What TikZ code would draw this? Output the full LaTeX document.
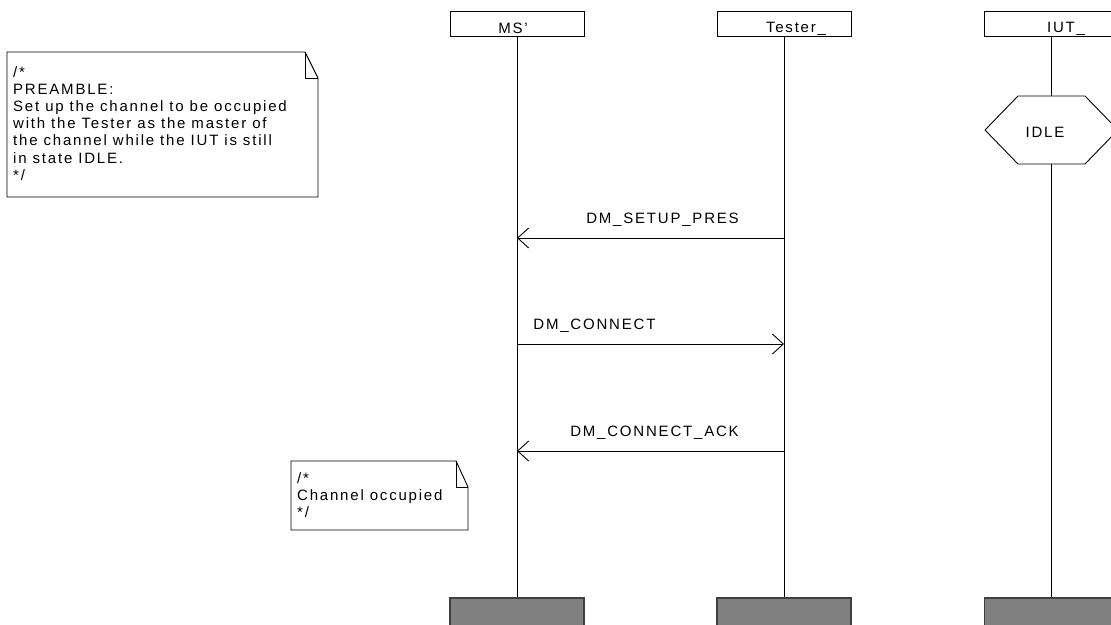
\documentclass[tikz,border=0pt]{standalone}
\usepackage{fontspec}
\setmainfont{Liberation Sans}[LetterSpace=12]
\usetikzlibrary{arrows.meta}
\definecolor{endgray}{RGB}{128,128,128}
\tikzset{
  every node/.style={font=\fontsize{15}{17.2}\selectfont, inner sep=0pt},
  lifebox/.style={draw=black, line width=0.9pt, minimum width=134pt, minimum height=25pt, fill=white},
  endbox/.style={draw=black!75, line width=1.2pt, fill=endgray, minimum width=134pt, minimum height=30pt},
  lifeline/.style={line width=0.9pt},
  msg/.style={line width=0.9pt, -{Straight Barb[length=11pt,width=20pt,line width=0.9pt]}},
  lbl/.style={anchor=base, yshift=15pt},
  cmt/.style={draw=black, line width=0.9pt, fill=white},
  cmttext/.style={anchor=north west, align=left},
}
\begin{document}
\begin{tikzpicture}[x=1pt,y=-1pt]
\useasboundingbox (0,0) rectangle (1111,624);
\clip (0,0) rectangle (1111,624);
\fill[white] (0,0) rectangle (1111,624);

% instance heads
\node[lifebox] (ms) at (517,23.5) {};
\node[lifebox] (tester) at (784,23.5) {};
\node[lifebox] (iut) at (1051.5,23.5) {};
\node[anchor=base] (mslbl) at (513,33) {MS'};
\node[anchor=base] (testerlbl) at (796,32.5) {Tester\_};
\node[anchor=base] (iutlbl) at (1066,32.5) {IUT\_};

% instance ends
\node[endbox] (msend) at (517,613) {};
\node[endbox] (testerend) at (784,613) {};
\node[endbox] (iutend) at (1051.5,613) {};

% IDLE state
\coordinate (idletop) at (1051.5,96);
\coordinate (idlebot) at (1051.5,164);
\draw[lifeline] (985,130) -- (1018,96) -- (1085,96) -- (1118,130) -- (1085,164) -- (1018,164) -- cycle;
\node[anchor=base] (idle) at (1045,137) {IDLE};

% lifelines
\draw[lifeline] (ms.south) -- (msend.north);
\draw[lifeline] (tester.south) -- (testerend.north);
\draw[lifeline] (iut.south) -- (idletop);
\draw[lifeline] (idlebot) -- (iutend.north);

% messages
\coordinate (m1t) at (784,238);
\coordinate (m1m) at (517,238);
\coordinate (m2m) at (517,344);
\coordinate (m2t) at (784,344);
\coordinate (m3t) at (784,451);
\coordinate (m3m) at (517,451);
\draw[msg] (m1t) -- (m1m) node[lbl, pos=0.455] {DM\_SETUP\_PRES};
\draw[msg] (m2m) -- (m2t) node[lbl, pos=0.29] {DM\_CONNECT};
\draw[msg] (m3t) -- (m3m) node[lbl, pos=0.485] {DM\_CONNECT\_ACK};

% comments
\draw[cmt] (7,52) -- (305,52) -- (318,78) -- (318,197) -- (7,197) -- cycle;
\draw[line width=0.9pt] (305,52) -- (305,78) -- (318,78);
\node[cmttext] (c1) at (13,66) {/*\\PREAMBLE:\\Set up the channel to be occupied\\with the Tester as the master of\\the channel while the IUT is still\\in state IDLE.\\*/};

\draw[cmt] (291,461) -- (456,461) -- (468,487) -- (468,530) -- (291,530) -- cycle;
\draw[line width=0.9pt] (456,461) -- (456,487) -- (468,487);
\node[cmttext] (c2) at (297,472) {/*\\Channel occupied\\*/};
\end{tikzpicture}
\end{document}
